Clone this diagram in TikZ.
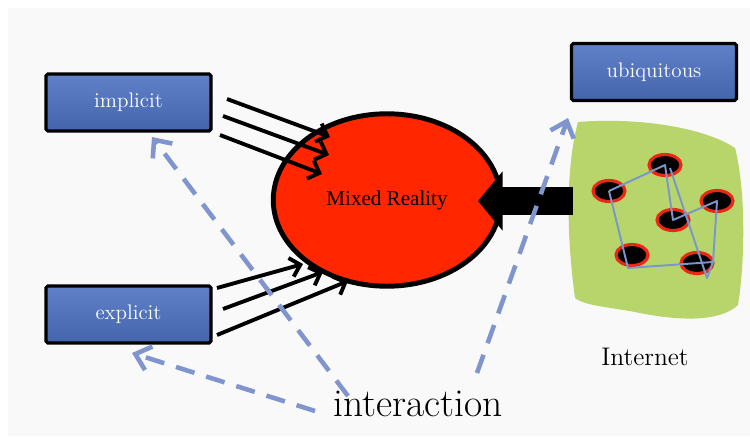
\documentclass[tikz,border=0pt]{standalone}
\usepackage{fontspec}
\newfontfamily\timesfont{Liberation Serif}
\usepackage{tikz}
\usetikzlibrary{arrows.meta,shapes.geometric,positioning,calc}

\definecolor{boxtop}{RGB}{96,128,200}
\definecolor{boxbot}{RGB}{68,100,172}
\definecolor{mrred}{RGB}{255,38,0}
\definecolor{netgreen}{RGB}{183,213,106}
\definecolor{netred}{RGB}{235,40,20}
\definecolor{netblue}{RGB}{122,150,204}
\definecolor{dashblue}{RGB}{128,148,206}
\definecolor{slide}{RGB}{249,249,249}

\begin{document}
\begin{tikzpicture}[x=0.02cm,y=-0.02cm,
    box/.style={draw=black,line width=1.8pt,rounded corners=1pt,top color=boxtop,bottom color=boxbot,
      minimum width=3.3cm,minimum height=1.14cm,text=white,font=\fontsize{12}{14}\selectfont},
    netnode/.style={ellipse,fill=black,draw=netred,line width=1.8pt,minimum width=0.64cm,minimum height=0.42cm,inner sep=0pt},
    netline/.style={netblue,line width=1.1pt,line join=round},
    thinarrow/.style={line width=2.2pt,-{Straight Barb[length=5.5pt,width=11pt]}},
    dasharrow/.style={dashblue,line width=2.6pt,dash pattern=on 11pt off 7pt,-{Straight Barb[length=8pt,width=14pt]}}]
  \useasboundingbox (0,0) rectangle (750,436);
  \fill[white] (0,0) rectangle (750,436);
  \fill[slide] (8,8) rectangle (750,436);

  % the three boxes
  \node[box] (implicit) at (128.5,102.5) {implicit};
  \node[box] (explicit) at (128.5,314.5) {explicit};
  \node[box] (ubiquitous) at (654,72) {ubiquitous};

  \node[ellipse,draw=black,line width=2.8pt,fill=mrred,minimum width=4.55cm,minimum height=3.45cm,
    font=\timesfont\fontsize{12}{14}\selectfont] (mr) at (387,200) {Mixed Reality};

  % internet cloud
  \fill[netgreen] (578,122) .. controls (640,117) and (705,128) .. (735,148)
    .. controls (746,190) and (745,262) .. (738,305)
    .. controls (720,322) and (680,321) .. (640,313)
    .. controls (610,307) and (585,306) .. (575,298)
    .. controls (567,240) and (565,170) .. (578,122) -- cycle;
  \node[netnode] (n1) at (665,165) {};
  \node[netnode] (n2) at (609,191) {};
  \node[netnode] (n3) at (717,201) {};
  \node[netnode] (n4) at (673,220) {};
  \node[netnode] (n5) at (632,255) {};
  \node[netnode] (n6) at (697,263) {};
  \coordinate (c1) at (628,268);
  \coordinate (c2) at (707,278);
  \coordinate (c3) at (713,262);
  \draw[netline] (n2.center) -- (n1.center) -- (n4.center) -- (n3.center) -- (c3) -- (c1) -- (n2.center);
  \draw[netline] ($(n1.center)+(5,3)$) -- (c2) -- (c3);
  \node (internet) at (645,365) [anchor=base,font=\fontsize{14.5}{16}\selectfont] {Internet};

  % big arrow from the internet
  \coordinate (bigstart) at (573,201);
  \coordinate (bigtip) at (478,201);
  \draw[line width=16pt,-{Triangle[length=14pt,width=33pt]}] (bigstart) -- (bigtip);

  % arrows into mixed reality
  \coordinate (is1) at (227,99);  \coordinate (ie1) at (330,137);
  \coordinate (is2) at (223,116); \coordinate (ie2) at (329,155);
  \coordinate (is3) at (220,135); \coordinate (ie3) at (322,174);
  \coordinate (es1) at (217,288); \coordinate (ee1) at (303,264);
  \coordinate (es2) at (223,309); \coordinate (ee2) at (323,272);
  \coordinate (es3) at (217,335); \coordinate (ee3) at (348,281);
  \draw[thinarrow] (is1) -- (ie1);
  \draw[thinarrow] (is2) -- (ie2);
  \draw[thinarrow] (is3) -- (ie3);
  \draw[thinarrow] (es1) -- (ee1);
  \draw[thinarrow] (es2) -- (ee2);
  \draw[thinarrow] (es3) -- (ee3);

  \node (interaction) at (418,416) [anchor=base,font=\fontsize{22.5}{26}\selectfont] {interaction};

  % dashed arrows from interaction
  \coordinate (d1) at (348,396); \coordinate (t1) at (152,137);
  \coordinate (d2) at (315,411); \coordinate (t2) at (132,353);
  \coordinate (d3) at (477,373); \coordinate (t3) at (568,118);
  \draw[dasharrow] (d1) -- (t1);
  \draw[dasharrow] (d2) -- (t2);
  \draw[dasharrow] (d3) -- (t3);
\end{tikzpicture}
\end{document}
